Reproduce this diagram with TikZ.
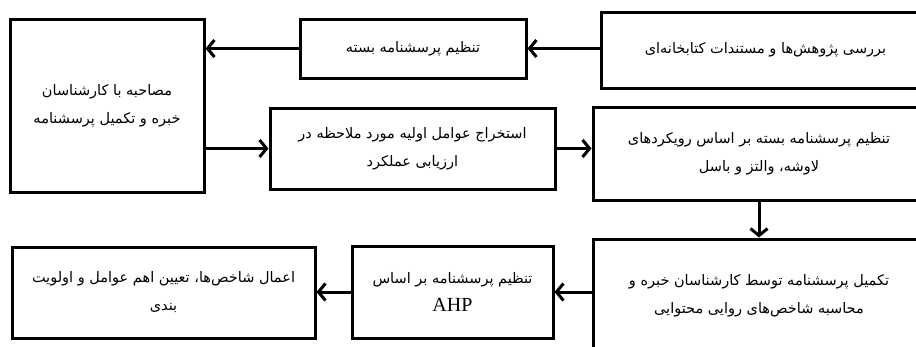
\documentclass[tikz,border=0pt]{standalone}
\usepackage{fontspec}
\usetikzlibrary{arrows.meta}
\TeXXeTstate=1
\newfontfamily\arabicfont[Script=Arabic]{DejaVu Sans}
\newfontfamily\latinserif{Liberation Serif}
\newcommand{\fa}[1]{{\arabicfont\beginR #1\endR}}
\begin{document}
\begin{tikzpicture}[x=1pt,y=-1pt,
  box/.style={draw, line width=3pt, rectangle, align=center, inner sep=0pt,
    font=\fontsize{14.5}{28}\selectfont},
  arr/.style={line width=3pt, -{Straight Barb[length=7pt,width=17pt]}}]
\clip (0,0) rectangle (916,346);
\node[box, minimum width=329pt, minimum height=76pt] (A) at (765.5,50)
  {\fa{بررسی پژوهش‌ها و مستندات کتابخانه‌ای}};
\node[box, minimum width=226pt, minimum height=59pt] (B) at (413,48.5)
  {\fa{تنظیم پرسشنامه بسته}};
\node[box, minimum width=194pt, minimum height=173pt] (C) at (107,105.5)
  {\fa{مصاحبه با کارشناسان}\\\fa{خبره و تکمیل پرسشنامه}};
\node[box, minimum width=285pt, minimum height=81pt] (D) at (412.5,148.5)
  {\fa{استخراج عوامل اولیه مورد ملاحظه در}\\\fa{ارزیابی عملکرد}};
\node[box, minimum width=332pt, minimum height=93pt] (E) at (759,153.5)
  {\fa{تنظیم پرسشنامه بسته بر اساس رویکردهای}\\\fa{لاوشه، والتز و باسل}};
\node[box, minimum width=332pt, minimum height=113pt] (F) at (759,295.5)
  {\fa{تکمیل پرسشنامه توسط کارشناسان خبره و}\\\fa{محاسبه شاخص‌های روایی محتوایی}};
\node[box, minimum width=201pt, minimum height=92pt] (G) at (452.5,292)
  {\fa{تنظیم پرسشنامه بر اساس}\\{\latinserif\fontsize{20}{22}\selectfont AHP}};
\node[box, minimum width=303pt, minimum height=91pt] (H) at (163.5,292.5)
  {\fa{اعمال شاخص‌ها، تعیین اهم عوامل و اولویت}\\\fa{بندی}};
\draw[arr] (A.west |- B.east) -- (B.east);
\draw[arr] (B.west) -- (B.west -| C.east);
\draw[arr] (C.east |- D.west) -- (D.west);
\draw[arr] (D.east) -- (D.east -| E.west);
\draw[arr] (E.south) -- (F.north);
\draw[arr] (F.west |- G.east) -- (G.east);
\draw[arr] (G.west) -- (G.west -| H.east);
\end{tikzpicture}
\end{document}
